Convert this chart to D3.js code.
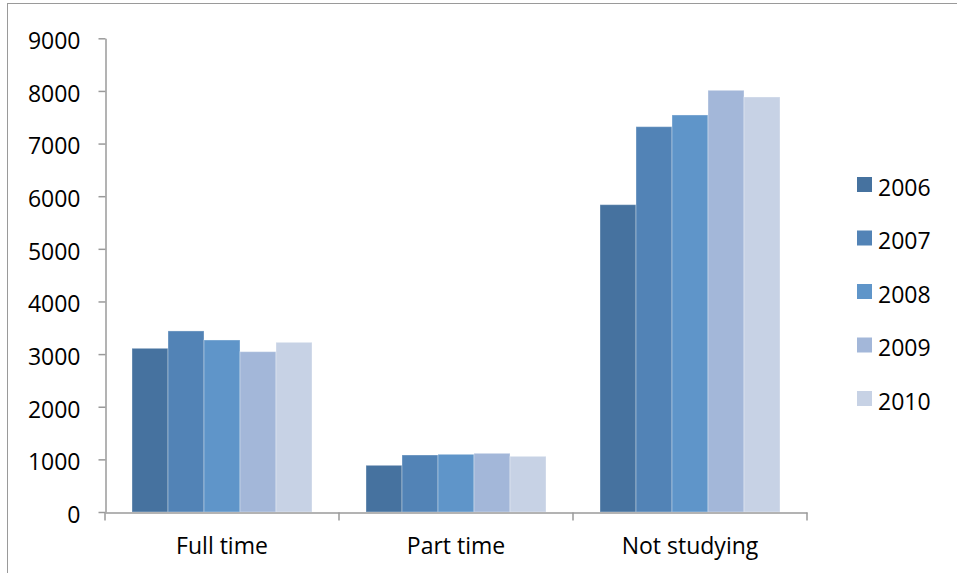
<!DOCTYPE html>
<html>
<head>
<meta charset="utf-8">
<script src="https://cdn.jsdelivr.net/npm/d3@7"></script>
<style>
  html, body { margin: 0; padding: 0; background: #fff; }
  svg { display: block; }
  text { font-family: "Open Sans", "Lato", sans-serif; fill: #000; }
</style>
</head>
<body>
<svg id="chart" width="957" height="573"></svg>
<script>
// Study status by year
const categories = ["Full time", "Part time", "Not studying"];
const years = ["2006", "2007", "2008", "2009", "2010"];
const values2006 = [3110, 887, 5839];
const values2007 = [3440, 1083, 7321];
const values2008 = [3268, 1096, 7543];
const values2009 = [3046, 1115, 8012];
const values2010 = [3224, 1058, 7885];
const yTicks = [0, 1000, 2000, 3000, 4000, 5000, 6000, 7000, 8000, 9000];
const colors = ["#46729F", "#5283B6", "#5F95C9", "#A3B7D9", "#C7D2E5"];

const seriesValues = [values2006, values2007, values2008, values2009, values2010];

const svg = d3.select("#chart");
const fontSize = 23;

// outer frame
svg.append("rect")
  .attr("x", 7.5).attr("y", 3.5)
  .attr("width", 1000).attr("height", 1000)
  .attr("fill", "none").attr("stroke", "#9a9a9a").attr("stroke-width", 1);

const plot = { left: 105, right: 807, top: 38.3, bottom: 512 };

const x0 = d3.scaleBand().domain(categories).range([plot.left, plot.right]).paddingInner(0).paddingOuter(0);
const innerPad = 27;
const x1 = d3.scaleBand().domain(years).range([innerPad, x0.bandwidth() - innerPad]).padding(0);
const y = d3.scaleLinear().domain([0, 9000]).range([plot.bottom, plot.top]);

// bars
const groups = svg.append("g").selectAll("g")
  .data(categories)
  .join("g")
  .attr("transform", d => `translate(${x0(d)},0)`);

groups.selectAll("rect")
  .data((c, ci) => years.map((yr, si) => ({ yr, si, v: seriesValues[si][ci] })))
  .join("rect")
  .attr("x", d => x1(d.yr))
  .attr("width", x1.bandwidth())
  .attr("y", d => y(d.v))
  .attr("height", d => y(0) - y(d.v))
  .attr("fill", d => colors[d.si])
  .attr("stroke", "rgba(255,255,255,0.35)")
  .attr("stroke-width", 1);

// y axis
const yAxis = svg.append("g").attr("transform", `translate(${plot.left + 0.5},0)`)
  .call(d3.axisLeft(y).tickValues(yTicks).tickFormat(d3.format("d"))
    .tickSize(7).tickPadding(18).tickSizeOuter(0));
yAxis.select(".domain").attr("stroke", "#9a9a9a").attr("stroke-width", 1.5);
yAxis.selectAll(".tick line").attr("stroke", "#9a9a9a").attr("stroke-width", 1.5);
yAxis.selectAll(".tick text")
  .attr("font-size", fontSize).attr("font-family", "Open Sans").attr("fill", "#000")
  .attr("dy", "0.45em");

// x axis
const xAxis = svg.append("g").attr("transform", `translate(0,${plot.bottom + 0.5})`)
  .call(d3.axisBottom(x0).tickSize(0).tickPadding(25));
xAxis.select(".domain").attr("stroke", "#9a9a9a").attr("stroke-width", 1.5);
xAxis.selectAll(".tick text")
  .attr("font-size", fontSize).attr("font-family", "Open Sans").attr("fill", "#000");

// category separators on the x axis
const sepPositions = categories.map(c => x0(c)).concat([x0.range()[1]]);
xAxis.selectAll("line.sep")
  .data(sepPositions)
  .join("line")
  .attr("class", "sep")
  .attr("x1", d => d).attr("x2", d => d)
  .attr("y1", 0).attr("y2", 8)
  .attr("stroke", "#9a9a9a").attr("stroke-width", 1.5);

// legend
const legend = svg.append("g").attr("transform", "translate(857,177)");
const rowGap = 53.5;
const items = legend.selectAll("g").data(years).join("g")
  .attr("transform", (d, i) => `translate(0,${i * rowGap})`);
items.append("rect")
  .attr("width", 15).attr("height", 15)
  .attr("fill", (d, i) => colors[i]);
items.append("text")
  .attr("x", 21).attr("y", 18.5)
  .attr("font-size", fontSize)
  .text(d => d);
</script>
</body>
</html>
